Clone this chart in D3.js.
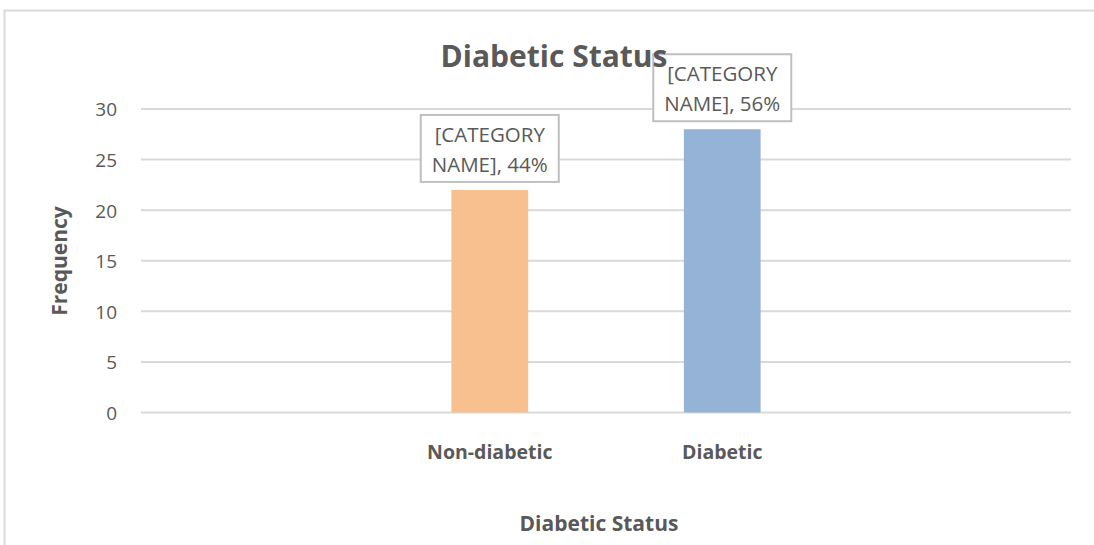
<!DOCTYPE html>
<html>
<head>
<meta charset="utf-8">
<script src="https://cdn.jsdelivr.net/npm/d3@7"></script>
<style>
  html, body { margin: 0; padding: 0; background: #fff; }
  svg { display: block; font-family: "Open Sans", "Noto Sans", sans-serif; }
</style>
</head>
<body>
<svg id="chart" width="1094" height="545"></svg>
<script>
// Chart data
const categories = ["Non-diabetic", "Diabetic"];
const frequencies = [22, 28];
const percents = [44, 56];
const barColors = ["#F9C08F", "#95B3D7"];
const yTicks = [0, 5, 10, 15, 20, 25, 30];
const chartTitle = "Diabetic Status";
const xTitle = "Diabetic Status";
const yTitle = "Frequency";

const svg = d3.select("#chart");
const textColor = "#595959";
const gridColor = "#d9d9d9";

// Outer chart frame
svg.append("path")
  .attr("d", "M4.5,545 V10.5 H1094")
  .attr("fill", "none")
  .attr("stroke", gridColor)
  .attr("stroke-width", 2);

const plot = { left: 141, right: 1071, top: 109, bottom: 412.5 };

// The category axis carries an empty slot on either side of the two bars
const slots = ["padL", ...categories, "padR"];
const x = d3.scaleBand().domain(slots).range([plot.left, plot.right]).paddingInner(0.67).paddingOuter(0.335);
const y = d3.scaleLinear().domain([0, 30]).range([plot.bottom, plot.top]);

// Gridlines
svg.append("g").selectAll("line").data(yTicks).join("line")
  .attr("x1", plot.left).attr("x2", plot.right)
  .attr("y1", d => y(d)).attr("y2", d => y(d))
  .attr("stroke", gridColor).attr("stroke-width", 2);

// Y axis labels
const yAxis = d3.axisLeft(y).tickValues(yTicks).tickSize(0).tickPadding(0);
const yg = svg.append("g").attr("transform", `translate(${plot.left - 24},0)`).call(yAxis);
yg.select(".domain").remove();
yg.selectAll("text").attr("fill", textColor).attr("font-size", 19).attr("dy", "0.36em")
  .style("font-family", "'Open Sans', sans-serif");

// X axis labels
const xAxis = d3.axisBottom(x).tickSize(0).tickPadding(0)
  .tickFormat(d => categories.includes(d) ? d : "");
const xg = svg.append("g").attr("transform", `translate(0,${plot.bottom + 33})`).call(xAxis);
xg.select(".domain").remove();
xg.selectAll("text").attr("fill", textColor).attr("font-size", 19.5).attr("font-weight", "bold")
  .style("font-family", "'Open Sans', sans-serif");

// Bars
const data = categories.map((c, i) => ({ cat: c, v: frequencies[i], p: percents[i], color: barColors[i] }));
svg.append("g").selectAll("rect").data(data).join("rect")
  .attr("x", d => x(d.cat))
  .attr("width", x.bandwidth())
  .attr("y", d => y(d.v))
  .attr("height", d => y(0) - y(d.v))
  .attr("fill", d => d.color);

// Data label callouts
const boxW = 138, boxH = 67;
const labels = svg.append("g").selectAll("g").data(data).join("g")
  .attr("transform", d => `translate(${x(d.cat) + x.bandwidth() / 2},${y(d.v) - 8 - boxH})`);
labels.append("rect")
  .attr("x", -boxW / 2).attr("y", 0).attr("width", boxW).attr("height", boxH)
  .attr("fill", "#fff").attr("stroke", "#bfbfbf").attr("stroke-width", 2);
labels.append("text")
  .attr("text-anchor", "middle").attr("y", 27).attr("fill", textColor).attr("font-size", 20.5)
  .text("[CATEGORY");
labels.append("text")
  .attr("text-anchor", "middle").attr("y", 57).attr("fill", textColor).attr("font-size", 20.5)
  .text(d => `NAME], ${d.p}%`);

// Titles
svg.append("text")
  .attr("x", 554).attr("y", 67).attr("text-anchor", "middle")
  .attr("fill", textColor).attr("font-size", 30).attr("font-weight", "bold")
  .text(chartTitle);
svg.append("text")
  .attr("x", 599).attr("y", 531).attr("text-anchor", "middle")
  .attr("fill", textColor).attr("font-size", 21).attr("font-weight", "bold")
  .text(xTitle);
svg.append("text")
  .attr("transform", "translate(67,261) rotate(-90)").attr("text-anchor", "middle")
  .attr("fill", textColor).attr("font-size", 21).attr("font-weight", "bold")
  .text(yTitle);
</script>
</body>
</html>
